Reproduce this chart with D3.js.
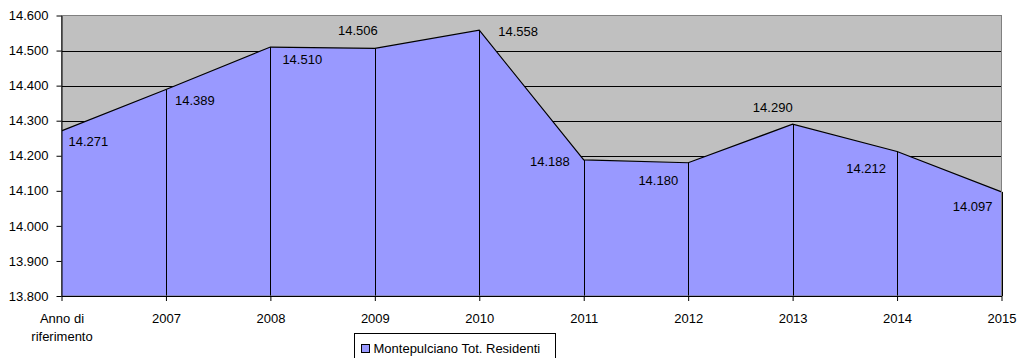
<!DOCTYPE html>
<html><head><meta charset="utf-8">
<script src="https://cdn.jsdelivr.net/npm/d3@7"></script>
<style>body{margin:0;background:#fff}text{font-family:"Liberation Sans",Arial,sans-serif}</style>
</head><body>
<svg id="c" width="1018" height="358"></svg>
<script>
const categories = ["Anno di\nriferimento","2007","2008","2009","2010","2011","2012","2013","2014","2015"];
const values = [14271,14389,14510,14506,14558,14188,14180,14290,14212,14097];
const yTicks = [13800,13900,14000,14100,14200,14300,14400,14500,14600];
const seriesName = "Montepulciano Tot. Residenti";

// label offsets (layout): anchor start/end, dx, dy relative to point
const labelLayout = [
  ["start",7,10.5],["start",9,11],["start",12,12],["middle",-17,-18],["start",19,1],
  ["end",-14,1],["end",-10,18],["end",0,-17],["end",-11,17],["end",-9,15]
];

const svg = d3.select("#c");
const L=61.5, R=1001.5, T=15.5, B=296;
const x = d3.scalePoint().domain(categories).range([L,R]);
const y = d3.scaleLinear().domain([13800,14600]).range([B,T]);
const fmt = v => d3.format(",")(v).replace(/,/g,".").replace(/^(\d+)\.(\d{3})$/,"$1.$2");
const fmtTick = v => (v/1000).toFixed(3);

svg.append("rect").attr("x",L).attr("y",T).attr("width",R-L).attr("height",B-T).attr("fill","#C0C0C0");
// gridlines
svg.selectAll(".g").data(yTicks.slice(1,-1)).enter().append("line")
  .attr("x1",L).attr("x2",R).attr("y1",d=>Math.round(y(d))+0.5).attr("y2",d=>Math.round(y(d))+0.5)
  .attr("stroke","#000").attr("stroke-width",1);

const data = categories.map((c,i)=>({c,v:values[i]}));
const area = d3.area().x(d=>x(d.c)).y0(B).y1(d=>y(d.v));
svg.append("path").datum(data).attr("d",area).attr("fill","#9999FF");
const line = d3.line().x(d=>x(d.c)).y(d=>y(d.v));
svg.append("path").datum(data).attr("d",line).attr("fill","none").attr("stroke","#000").attr("stroke-width",1.2);
svg.selectAll(".dl").data(data.slice(1)).enter().append("line")
  .attr("x1",d=>Math.round(x(d.c))+0.5).attr("x2",d=>Math.round(x(d.c))+0.5)
  .attr("y1",d=>y(d.v)).attr("y2",B).attr("stroke","#000");

// plot border
svg.append("rect").attr("x",L).attr("y",T).attr("width",R-L).attr("height",B-T)
  .attr("fill","none").attr("stroke","#808080");

// y axis
const ya = svg.append("g").attr("transform",`translate(${L},0)`)
  .call(d3.axisLeft(y).tickValues(yTicks).tickFormat(fmtTick).tickSize(5).tickSizeOuter(0));
ya.select(".domain").attr("stroke","#000");
ya.selectAll(".tick line").attr("stroke","#000");
ya.selectAll("text").attr("font-size",13).attr("fill","#000").attr("font-family","Liberation Sans, Arial").attr("x",-13);

// x axis
const xa = svg.append("g").attr("transform",`translate(0,${B})`)
  .call(d3.axisBottom(x).tickSize(5).tickSizeOuter(0).tickFormat(""));
xa.select(".domain").attr("stroke","#000");
xa.selectAll(".tick line").attr("stroke","#000");
xa.selectAll(".tick").each(function(d){
  const lines = d.split("\n");
  const t = d3.select(this).append("text").attr("fill","#000").attr("font-size",13)
    .attr("text-anchor","middle").attr("y",27);
  lines.forEach((s,i)=>t.append("tspan").attr("x",0).attr("dy",i?18:0).text(s));
});

// data labels
svg.selectAll(".lbl").data(data).enter().append("text")
  .attr("x",(d,i)=>x(d.c)+labelLayout[i][1])
  .attr("y",(d,i)=>y(d.v)+labelLayout[i][2])
  .attr("dy","0.35em")
  .attr("text-anchor",(d,i)=>labelLayout[i][0])
  .attr("font-size",13).attr("fill","#000")
  .text(d=>fmtTick(d.v));

// legend
const lg = svg.append("g").attr("transform","translate(354.5,333.5)");
lg.append("rect").attr("width",201).attr("height",30).attr("fill","#fff").attr("stroke","#000");
lg.append("rect").attr("x",7).attr("y",11).attr("width",8).attr("height",8).attr("fill","#9999FF").attr("stroke","#000");
lg.append("text").attr("x",19).attr("y",15).attr("dy","0.35em").attr("font-size",13).attr("fill","#000").text(seriesName);
</script>
</body></html>
